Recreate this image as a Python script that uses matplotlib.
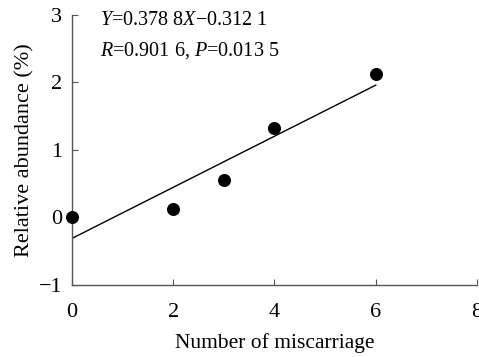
import numpy as np
import matplotlib
matplotlib.use("Agg")
import matplotlib.pyplot as plt

plt.rcParams['font.family'] = ['Liberation Serif', 'DejaVu Serif']
plt.rcParams['mathtext.fontset'] = 'custom'
plt.rcParams['mathtext.rm'] = 'Liberation Serif'
plt.rcParams['mathtext.it'] = 'Liberation Serif:italic'

# data
miscarriages = [0, 2, 3, 4, 6]
abundance = [0.0, 0.13, 0.56, 1.32, 2.13]
slope = 0.3788
intercept = -0.3121
x_ticks = [0, 2, 4, 6, 8]
y_ticks = [-1, 0, 1, 2, 3]

fig = plt.figure(figsize=(4.79, 3.57), dpi=100)
ax = fig.add_axes([0.150, 0.202, 0.846, 0.756])

# regression line
fit_x = np.array([min(miscarriages), max(miscarriages)])
ax.plot(fit_x, slope * fit_x + intercept, color='black', lw=1.0)
ax.scatter(miscarriages, abundance, s=70, color='black', zorder=3, clip_on=False)

ax.set_xlim(0, 8)
ax.set_ylim(-1, 3)
ax.set_xticks(x_ticks)
ax.set_yticks(y_ticks)
ax.spines['top'].set_visible(False)
ax.spines['right'].set_visible(False)
for s in ['left', 'bottom']:
    ax.spines[s].set_color('#555555')
    ax.spines[s].set_linewidth(1.0)
ax.tick_params(direction='in', length=4, color='#555555', labelsize=16)
ax.tick_params(axis='x', pad=13)
ax.tick_params(axis='y', pad=7)

ax.set_xlabel("Number of miscarriage", fontsize=15.5, labelpad=8)
ax.set_ylabel("Relative abundance (%)", fontsize=16, labelpad=3)

ax.text(0.07, 0.98, r"$Y$=0.378 8$X$−0.312 1", transform=ax.transAxes,
        fontsize=14.5, va='center', ha='left')
ax.text(0.07, 0.87, r"$R$=0.901 6, $P$=0.013 5", transform=ax.transAxes,
        fontsize=14.5, va='center', ha='left')

fig.savefig("out.png", dpi=100)
